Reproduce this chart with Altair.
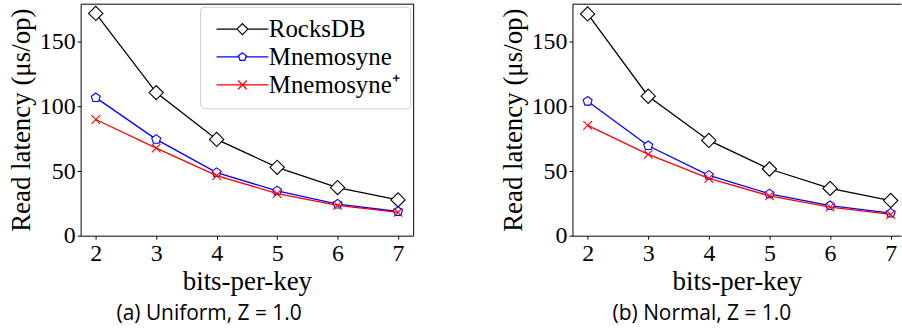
import altair as alt
import pandas as pd

# ---------------- data ----------------
bits = [2, 3, 4, 5, 6, 7]
series = ["RocksDB", "Mnemosyne", "Mnemosyne⁺"]

uniform_rocksdb = [172.0, 110.7, 74.5, 52.9, 37.2, 27.7]
uniform_mnemosyne = [106.8, 74.5, 48.8, 34.7, 24.4, 18.7]
uniform_mnemosyne_plus = [89.9, 67.8, 46.5, 32.6, 23.4, 18.0]

normal_rocksdb = [171.6, 107.9, 73.7, 51.6, 36.6, 27.2]
normal_mnemosyne = [104.0, 69.6, 46.7, 32.4, 23.2, 17.5]
normal_mnemosyne_plus = [85.3, 62.9, 44.4, 30.8, 22.1, 16.4]

captions = ["(a) Uniform, Z = 1.0", "(b) Normal, Z = 1.0"]
y_ticks = [0, 50, 100, 150]
colors = ["#000000", "#0000ff", "#ff0000"]

SERIF = "Liberation Serif"
SANS = "Open Sans"

PENTAGON = "M0,-1L0.951,-0.309L0.588,0.809L-0.588,0.809L-0.951,-0.309Z"
XMARK = "M-1,-1L1,1M-1,1L1,-1"
markers = [("diamond", 205), (PENTAGON, 90), (XMARK, 74)]

# legend symbols: line segment + marker
LEG_DIAMOND = "M-4.73,0L-1,0M1,0L4.73,0M-1,0L0,-1L1,0L0,1Z"
LEG_PENTAGON = ("M-4.73,0L-0.638,0M0.638,0L4.73,0"
                "M0,-0.75L0.713,-0.232L0.441,0.607L-0.441,0.607L-0.713,-0.232Z")
LEG_X = "M-4.73,0L4.73,0M-0.8,-0.8L0.8,0.8M-0.8,0.8L0.8,-0.8"
legend_shapes = [LEG_DIAMOND, LEG_PENTAGON, LEG_X]


def long_df(cols):
    rows = []
    for name, vals in zip(series, cols):
        for b, v in zip(bits, vals):
            rows.append({"bits": b, "latency": v, "series": name})
    return pd.DataFrame(rows)


def panel(df, caption, width, x_max, dx, with_legend):
    base = alt.Chart(df)
    xs = alt.Scale(domain=[1.75, x_max], nice=False, zero=False)
    ys = alt.Scale(domain=[0, 179.5], nice=False, zero=True)
    x_main = alt.X("bits:Q", scale=xs,
                   axis=alt.Axis(values=bits, title="bits-per-key", orient="bottom"))
    y_main = alt.Y("latency:Q", scale=ys,
                   axis=alt.Axis(values=y_ticks, title="Read latency (μs/op)", orient="left"))
    x_none = alt.X("bits:Q", scale=xs, axis=None)
    y_none = alt.Y("latency:Q", scale=ys, axis=None)

    layers = []
    for i, (name, color, (shape, size)) in enumerate(zip(series, colors, markers)):
        sub = base.transform_filter(alt.datum.series == name)
        layers.append(
            sub.mark_line(color=color, strokeWidth=1.3).encode(
                x=x_main if i == 0 else x_none,
                y=y_main if i == 0 else y_none,
            )
        )
        layers.append(
            sub.mark_point(shape=shape, size=size, filled=True, fill="white",
                           stroke=color, strokeWidth=1.1, opacity=1).encode(
                x=x_none, y=y_none)
        )

    x_top = alt.X("bits:Q", scale=xs,
                  axis=alt.Axis(orient="top", labels=False, ticks=False, title="", domain=True))
    if with_legend:
        leg = alt.Legend(
            title=None, orient="top-right", offset=3,
            labelFont=SERIF, labelFontSize=25, labelColor="black", labelLimit=400,
            strokeColor="#cccccc", fillColor="rgba(255,255,255,0.8)", cornerRadius=4,
            padding=10, rowPadding=2, symbolOffset=20, labelOffset=14,
            symbolFillColor="white", symbolStrokeWidth=1.2, symbolSize=121,
            symbolOpacity=1,
        )
        y_right = alt.Y("latency:Q", scale=ys,
                        axis=alt.Axis(orient="right", labels=False, ticks=False,
                                      title="", domain=True))
        frame = base.transform_filter("false").mark_point(
            size=121, strokeWidth=1.2, filled=False, opacity=1).encode(
            x=x_top, y=y_right,
            color=alt.Color("series:N", scale=alt.Scale(domain=series, range=colors), legend=leg),
            shape=alt.Shape("series:N", scale=alt.Scale(domain=series, range=legend_shapes), legend=leg),
        )
    else:
        frame = base.transform_filter("false").mark_point().encode(x=x_top, y=y_none)
    layers.append(frame)

    return alt.layer(*layers).resolve_axis(x="independent", y="independent").properties(
        width=width, height=233,
        title=alt.TitleParams(caption, orient="bottom", anchor="middle", offset=8, dx=dx,
                              font=SANS, fontSize=21, fontWeight="normal", color="black"),
    )


left = panel(long_df([uniform_rocksdb, uniform_mnemosyne, uniform_mnemosyne_plus]),
             captions[0], 334, 7.25, -38, True)
right = panel(long_df([normal_rocksdb, normal_mnemosyne, normal_mnemosyne_plus]),
              captions[1], 330, 7.17, -35, False)

chart = alt.hconcat(left, right, spacing=85).resolve_scale(
    color="independent", shape="independent"
).resolve_legend(
    color="independent", shape="independent"
).properties(
    padding={"left": 7, "top": 2, "right": 0, "bottom": 0}
).configure_view(stroke="transparent").configure_axis(
    grid=False, domainColor="black", domainWidth=1, tickColor="black", tickWidth=1,
    tickSize=3.5, labelFont=SERIF, labelFontSize=24, labelColor="black", labelPadding=2,
    titleFont=SERIF, titleFontSize=27, titleFontWeight="normal", titleColor="black",
    titlePadding=4,
)

chart.save("out.html", embed_options={"renderer": "svg", "actions": False})
